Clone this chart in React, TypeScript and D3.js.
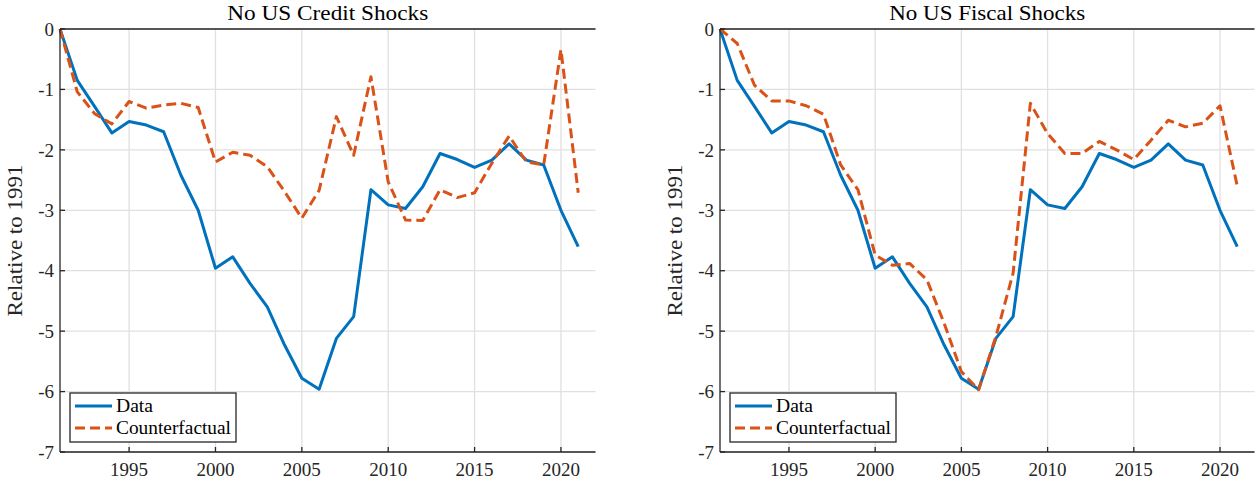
import React from "react";
import * as d3 from "d3";

// Years 1991–2021
const years: number[] = d3.range(1991, 2022);

// Observed series (same in both panels)
const dataSeries: number[] = [
  0, -0.85, -1.28, -1.72, -1.53, -1.59, -1.7, -2.42, -3.0, -3.96,
  -3.77, -4.21, -4.6, -5.23, -5.78, -5.96, -5.12, -4.76, -2.66, -2.91,
  -2.97, -2.61, -2.06, -2.16, -2.29, -2.17, -1.9, -2.17, -2.25, -3.0, -3.6,
];

// Counterfactual without US credit shocks
const cfCredit: number[] = [
  0, -1.04, -1.4, -1.57, -1.2, -1.31, -1.26, -1.23, -1.3, -2.2,
  -2.04, -2.09, -2.28, -2.69, -3.13, -2.67, -1.45, -2.09, -0.79, -2.53,
  -3.16, -3.17, -2.66, -2.79, -2.71, -2.22, -1.77, -2.2, -2.25, -0.34, -2.71,
];

// Counterfactual without US fiscal shocks
const cfFiscal: number[] = [
  0, -0.24, -0.93, -1.19, -1.19, -1.27, -1.41, -2.25, -2.66, -3.74,
  -3.91, -3.88, -4.15, -4.87, -5.67, -5.97, -5.09, -4.04, -1.23, -1.73,
  -2.06, -2.06, -1.86, -2.0, -2.16, -1.84, -1.51, -1.62, -1.56, -1.27, -2.6,
];

const xTicks: number[] = [1995, 2000, 2005, 2010, 2015, 2020];
const yTicks: number[] = [0, -1, -2, -3, -4, -5, -6, -7];
const titles: string[] = ["No US Credit Shocks", "No US Fiscal Shocks"];
const yLabel = "Relative to 1991";
const legendLabels: string[] = ["Data", "Counterfactual"];

const BLUE = "#0072BD";
const ORANGE = "#D95319";
const AXIS = "#262626";
const GRID = "#e0e0e0";
const FONT = "Liberation Serif, DejaVu Serif, serif";

type PanelProps = {
  left: number;
  right: number;
  title: string;
  titleWidth: number;
  cf: number[];
};

const TOP = 29;
const BOTTOM = 452;
const LW = 3;
const DASH = "10,5";

function Panel({ left, right, title, titleWidth, cf }: PanelProps) {
  const x = d3.scaleLinear().domain([1991, 2022]).range([left, right]);
  const y = d3.scaleLinear().domain([-7, 0]).range([BOTTOM, TOP]);
  const line = d3
    .line<number>()
    .x((_, i) => x(years[i]))
    .y((d) => y(d));

  const legX = left + 10;
  const legY = 393;

  return (
    <g style={{ fontFamily: FONT }}>
      {/* grid */}
      {xTicks.map((t) => (
        <line key={"gx" + t} x1={x(t)} x2={x(t)} y1={TOP} y2={BOTTOM} stroke={GRID} strokeWidth={1.3} />
      ))}
      {yTicks.map((t) => (
        <line key={"gy" + t} x1={left} x2={right} y1={y(t)} y2={y(t)} stroke={GRID} strokeWidth={1.3} />
      ))}

      {/* series */}
      <path d={line(dataSeries) ?? ""} fill="none" stroke={BLUE} strokeWidth={LW} strokeLinejoin="round" />
      <path d={line(cf) ?? ""} fill="none" stroke={ORANGE} strokeWidth={LW} strokeDasharray={DASH} strokeLinejoin="round" />

      {/* axes */}
      <line x1={left} x2={right} y1={TOP} y2={TOP} stroke={AXIS} strokeWidth={1.3} />
      <line x1={left} x2={left} y1={TOP} y2={BOTTOM} stroke={AXIS} strokeWidth={1.3} />
      <line x1={left} x2={right} y1={BOTTOM} y2={BOTTOM} stroke={AXIS} strokeWidth={1.3} />
      {yTicks.map((t) => (
        <g key={"yt" + t}>
          <line x1={left} x2={left + 5} y1={y(t)} y2={y(t)} stroke={AXIS} strokeWidth={1.3} />
          <text x={left - 6} y={y(t)} dy="0.35em" textAnchor="end" fontSize={19} fill={AXIS}>
            {t === 0 ? "0" : "-" + Math.abs(t)}
          </text>
        </g>
      ))}
      {xTicks.map((t) => (
        <g key={"xt" + t}>
          <line x1={x(t)} x2={x(t)} y1={BOTTOM} y2={BOTTOM - 5} stroke={AXIS} strokeWidth={1.3} />
          <text x={x(t)} y={BOTTOM + 24} textAnchor="middle" fontSize={19} fill={AXIS}>
            {t}
          </text>
        </g>
      ))}

      {/* title */}
      <text
        x={(left + right) / 2}
        y={20}
        textAnchor="middle"
        fontSize={21}
        fill="#000"
        textLength={titleWidth}
        lengthAdjust="spacingAndGlyphs"
      >
        {title}
      </text>

      {/* y label */}
      <text
        transform={`translate(${left - 38},${(TOP + BOTTOM) / 2}) rotate(-90)`}
        textAnchor="middle"
        fontSize={21}
        fill={AXIS}
        textLength={152}
        lengthAdjust="spacingAndGlyphs"
      >
        {yLabel}
      </text>

      {/* legend */}
      <rect x={legX} y={legY} width={166} height={49} fill="#fff" stroke={AXIS} strokeWidth={1.3} />
      <line x1={legX + 5} x2={legX + 42} y1={legY + 13} y2={legY + 13} stroke={BLUE} strokeWidth={LW} />
      <line x1={legX + 5} x2={legX + 42} y1={legY + 35} y2={legY + 35} stroke={ORANGE} strokeWidth={LW} strokeDasharray={DASH} />
      <text x={legX + 46} y={legY + 13} dy="0.35em" fontSize={18} fill="#000" textLength={37} lengthAdjust="spacingAndGlyphs">
        {legendLabels[0]}
      </text>
      <text x={legX + 46} y={legY + 35} dy="0.35em" fontSize={18} fill="#000" textLength={115} lengthAdjust="spacingAndGlyphs">
        {legendLabels[1]}
      </text>
    </g>
  );
}

export default function App() {
  return (
    <svg
      width={1260}
      height={485}
      viewBox="0 0 1260 485"
      style={{ position: "absolute", left: 0, top: 0, background: "#fff", display: "block" }}
    >
      <rect width={1260} height={485} fill="#fff" />
      <Panel left={60} right={595.5} title={titles[0]} titleWidth={201} cf={cfCredit} />
      <Panel left={720} right={1254.5} title={titles[1]} titleWidth={196} cf={cfFiscal} />
    </svg>
  );
}
